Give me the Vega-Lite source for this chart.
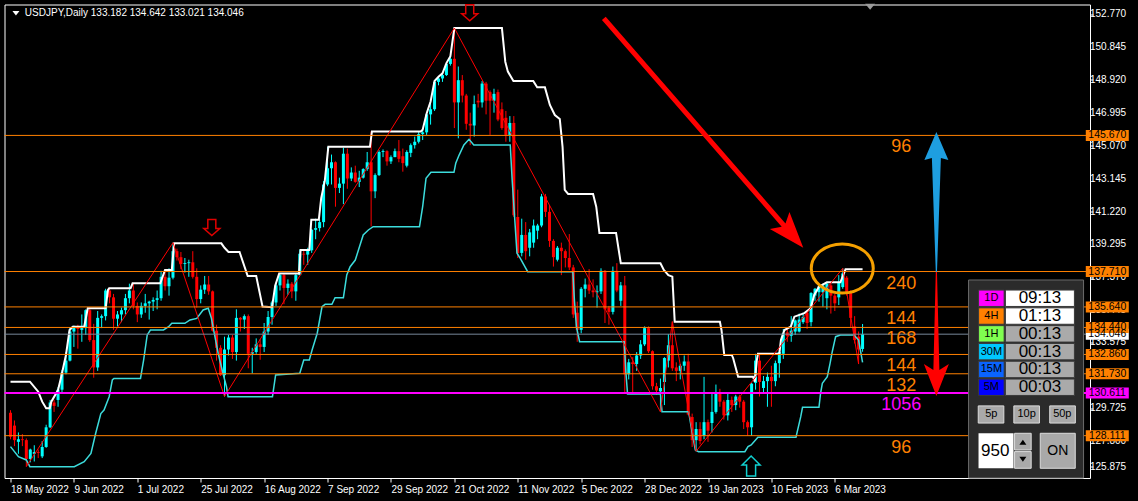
{
"$schema":"https://vega.github.io/schema/vega-lite/v6.json",
"width":1085.5,"height":473.5,
"autosize":{"type":"none"},
"padding":{"left":4.5,"top":4.5,"right":48,"bottom":23},
"background":"#000000",
"config":{"view":{"stroke":"#ffffff","strokeWidth":1,"fill":"#000000"},"text":{"font":"Liberation Sans"},"axis":{"labelFont":"Liberation Sans"}},
"datasets":{
"one":[{}],
"yticks":[
{"v":152.77,"label":"152.770"},{"v":150.845,"label":"150.845"},{"v":148.92,"label":"148.920"},{"v":146.995,"label":"146.995"},{"v":145.07,"label":"145.070"},{"v":143.145,"label":"143.145"},{"v":141.22,"label":"141.220"},{"v":139.295,"label":"139.295"},{"v":137.37,"label":"137.370"},{"v":135.445,"label":"135.445"},{"v":133.575,"label":"133.575"},{"v":131.65,"label":"131.650"},{"v":129.725,"label":"129.725"},{"v":127.8,"label":"127.800"},{"v":126.3,"label":"125.875"}
],
"candles":[
{"i":0,"o":129.45,"h":129.6,"l":127.9,"c":128.05},{"i":1,"o":128.7,"h":129.0,"l":127.5,"c":127.85},{"i":2,"o":127.75,"h":128.3,"l":127.05,"c":127.9},{"i":3,"o":127.9,"h":128.2,"l":127.5,"c":127.85},{"i":4,"o":127.85,"h":127.95,"l":126.3,"c":126.75},{"i":5,"o":126.75,"h":127.35,"l":126.55,"c":127.3},{"i":6,"o":127.05,"h":127.55,"l":126.6,"c":127.15},{"i":7,"o":127.15,"h":127.3,"l":126.8,"c":127.1},{"i":8,"o":126.9,"h":127.8,"l":126.8,"c":127.45},{"i":9,"o":127.45,"h":128.75,"l":127.4,"c":128.6},
{"i":10,"o":128.6,"h":130.2,"l":128.55,"c":130.05},{"i":11,"o":130.05,"h":130.2,"l":129.5,"c":129.85},{"i":12,"o":130.2,"h":130.95,"l":129.8,"c":130.8},{"i":13,"o":130.8,"h":131.95,"l":130.6,"c":131.8},{"i":14,"o":131.8,"h":133.0,"l":131.7,"c":132.5},{"i":15,"o":132.5,"h":134.45,"l":132.45,"c":134.2},{"i":16,"o":134.2,"h":134.55,"l":133.3,"c":134.45},{"i":17,"o":134.45,"h":134.6,"l":133.2,"c":134.35},{"i":18,"o":134.3,"h":135.2,"l":133.6,"c":134.4},{"i":19,"o":134.4,"h":135.5,"l":134.0,"c":135.45},
{"i":20,"o":135.45,"h":135.6,"l":133.6,"c":133.7},{"i":21,"o":133.7,"h":134.65,"l":131.5,"c":132.1},{"i":22,"o":132.1,"h":135.4,"l":131.9,"c":135.0},{"i":23,"o":135.0,"h":135.2,"l":134.4,"c":135.1},{"i":24,"o":135.1,"h":136.7,"l":134.85,"c":136.6},{"i":25,"o":136.6,"h":136.75,"l":135.85,"c":136.2},{"i":26,"o":136.2,"h":136.4,"l":134.3,"c":134.95},{"i":27,"o":134.95,"h":135.4,"l":134.5,"c":135.2},{"i":28,"o":135.2,"h":135.6,"l":134.75,"c":135.45},{"i":29,"o":135.45,"h":136.4,"l":135.2,"c":136.15},
{"i":30,"o":136.15,"h":137.0,"l":135.85,"c":136.6},{"i":31,"o":136.6,"h":137.0,"l":135.5,"c":135.7},{"i":32,"o":135.7,"h":135.9,"l":134.75,"c":135.2},{"i":33,"o":135.2,"h":135.9,"l":135.0,"c":135.7},{"i":34,"o":135.7,"h":136.4,"l":135.3,"c":135.85},{"i":35,"o":135.85,"h":136.0,"l":134.9,"c":135.95},{"i":36,"o":135.95,"h":136.2,"l":135.4,"c":136.05},{"i":37,"o":136.05,"h":136.6,"l":135.5,"c":136.15},{"i":38,"o":136.15,"h":137.75,"l":136.0,"c":137.4},{"i":39,"o":137.4,"h":137.75,"l":136.6,"c":136.85},
{"i":40,"o":136.85,"h":137.9,"l":136.3,"c":137.35},{"i":41,"o":137.35,"h":139.4,"l":137.25,"c":138.9},{"i":42,"o":138.9,"h":139.05,"l":138.35,"c":138.55},{"i":43,"o":138.55,"h":138.85,"l":137.85,"c":138.15},{"i":44,"o":138.15,"h":138.5,"l":137.65,"c":138.2},{"i":45,"o":138.2,"h":138.4,"l":137.4,"c":138.25},{"i":46,"o":138.25,"h":138.9,"l":137.3,"c":137.4},{"i":47,"o":137.4,"h":137.9,"l":135.6,"c":136.1},{"i":48,"o":136.1,"h":136.9,"l":135.85,"c":136.65},{"i":49,"o":136.65,"h":137.45,"l":136.4,"c":136.95},
{"i":50,"o":136.95,"h":137.45,"l":136.35,"c":136.55},{"i":51,"o":136.55,"h":136.6,"l":134.2,"c":134.25},{"i":52,"o":134.25,"h":134.6,"l":132.5,"c":133.25},{"i":53,"o":133.25,"h":133.4,"l":131.6,"c":131.65},{"i":54,"o":131.65,"h":133.9,"l":130.4,"c":133.15},{"i":55,"o":133.15,"h":134.0,"l":132.8,"c":133.85},{"i":56,"o":133.85,"h":134.0,"l":132.6,"c":133.0},{"i":57,"o":133.0,"h":135.5,"l":132.5,"c":135.0},{"i":58,"o":135.0,"h":135.05,"l":134.2,"c":134.9},{"i":59,"o":134.9,"h":135.2,"l":134.35,"c":135.1},
{"i":60,"o":135.1,"h":135.2,"l":132.05,"c":132.9},{"i":61,"o":132.9,"h":133.25,"l":131.75,"c":133.0},{"i":62,"o":133.0,"h":133.8,"l":132.9,"c":133.45},{"i":63,"o":133.45,"h":133.75,"l":132.55,"c":133.3},{"i":64,"o":133.3,"h":134.7,"l":133.0,"c":134.2},{"i":65,"o":134.2,"h":135.4,"l":134.0,"c":135.05},{"i":66,"o":135.05,"h":136.0,"l":134.6,"c":135.9},{"i":67,"o":135.9,"h":137.05,"l":135.7,"c":136.9},{"i":68,"o":136.9,"h":137.6,"l":136.6,"c":137.5},{"i":69,"o":137.5,"h":137.6,"l":135.8,"c":136.75},
{"i":70,"o":136.75,"h":137.25,"l":136.35,"c":137.0},{"i":71,"o":137.0,"h":137.1,"l":136.15,"c":136.55},{"i":72,"o":136.55,"h":137.6,"l":136.0,"c":137.5},{"i":73,"o":137.5,"h":139.0,"l":137.5,"c":138.75},{"i":74,"o":138.75,"h":138.95,"l":138.1,"c":138.7},{"i":75,"o":138.7,"h":139.1,"l":138.1,"c":138.95},{"i":76,"o":138.95,"h":140.2,"l":138.8,"c":140.15},{"i":77,"o":140.15,"h":140.8,"l":139.6,"c":140.25},{"i":78,"o":140.25,"h":140.75,"l":140.05,"c":140.6},{"i":79,"o":140.6,"h":143.0,"l":140.3,"c":142.8},
{"i":80,"o":142.8,"h":145.0,"l":142.7,"c":143.75},{"i":81,"o":143.75,"h":144.55,"l":142.8,"c":144.1},{"i":82,"o":144.1,"h":144.15,"l":141.5,"c":142.6},{"i":83,"o":142.6,"h":143.2,"l":142.3,"c":142.85},{"i":84,"o":142.85,"h":144.95,"l":141.65,"c":144.6},{"i":85,"o":144.6,"h":144.9,"l":142.55,"c":143.15},{"i":86,"o":143.15,"h":143.8,"l":143.0,"c":143.5},{"i":87,"o":143.5,"h":143.9,"l":142.9,"c":142.95},{"i":88,"o":142.95,"h":143.6,"l":142.65,"c":143.2},{"i":89,"o":143.2,"h":143.75,"l":143.15,"c":143.7},
{"i":90,"o":143.7,"h":144.7,"l":143.6,"c":144.1},{"i":91,"o":144.1,"h":145.9,"l":140.35,"c":142.4},{"i":92,"o":142.4,"h":143.45,"l":142.0,"c":143.35},{"i":93,"o":143.35,"h":144.8,"l":143.3,"c":144.7},{"i":94,"o":144.7,"h":144.85,"l":144.4,"c":144.75},{"i":95,"o":144.75,"h":144.8,"l":143.9,"c":144.15},{"i":96,"o":144.15,"h":144.5,"l":144.0,"c":144.4},{"i":97,"o":144.4,"h":144.9,"l":144.4,"c":144.75},{"i":98,"o":144.75,"h":145.4,"l":144.1,"c":144.3},{"i":99,"o":144.45,"h":144.9,"l":143.55,"c":144.05},
{"i":100,"o":143.9,"h":144.8,"l":143.8,"c":144.7},{"i":101,"o":144.65,"h":145.2,"l":144.4,"c":145.1},{"i":102,"o":145.1,"h":145.6,"l":144.9,"c":145.3},{"i":103,"o":145.3,"h":145.9,"l":145.2,"c":145.75},{"i":104,"o":145.75,"h":146.0,"l":145.4,"c":145.85},{"i":105,"o":145.85,"h":146.95,"l":145.7,"c":146.9},{"i":106,"o":146.9,"h":147.65,"l":146.3,"c":147.2},{"i":107,"o":147.2,"h":148.85,"l":147.1,"c":148.8},{"i":108,"o":148.8,"h":149.1,"l":148.6,"c":149.0},{"i":109,"o":149.0,"h":149.3,"l":148.8,"c":149.2},
{"i":110,"o":149.2,"h":149.9,"l":149.15,"c":149.85},{"i":111,"o":149.85,"h":150.3,"l":149.75,"c":150.15},{"i":112,"o":150.15,"h":151.95,"l":146.1,"c":147.6},{"i":113,"o":147.6,"h":149.7,"l":145.5,"c":148.9},{"i":114,"o":148.9,"h":149.2,"l":147.6,"c":148.0},{"i":115,"o":148.0,"h":148.1,"l":146.0,"c":146.35},{"i":116,"o":146.35,"h":147.0,"l":145.1,"c":146.25},{"i":117,"o":146.25,"h":148.0,"l":145.6,"c":147.5},{"i":118,"o":147.7,"h":148.1,"l":147.3,"c":147.6},{"i":119,"o":147.6,"h":148.85,"l":147.3,"c":148.7},
{"i":120,"o":148.7,"h":148.8,"l":146.9,"c":147.7},{"i":121,"o":148.2,"h":148.3,"l":145.7,"c":147.7},{"i":122,"o":147.7,"h":148.4,"l":147.0,"c":148.1},{"i":123,"o":148.2,"h":148.35,"l":146.5,"c":146.6},{"i":124,"o":147.2,"h":147.6,"l":146.0,"c":146.1},{"i":125,"o":146.7,"h":147.1,"l":145.3,"c":145.7},{"i":126,"o":145.7,"h":146.8,"l":145.3,"c":146.4},{"i":127,"o":146.4,"h":146.8,"l":140.9,"c":141.0},{"i":128,"o":140.9,"h":142.5,"l":138.5,"c":138.8},{"i":129,"o":138.8,"h":140.8,"l":138.6,"c":139.85},
{"i":130,"o":139.85,"h":140.6,"l":138.4,"c":138.9},{"i":131,"o":139.1,"h":140.2,"l":138.6,"c":140.0},{"i":132,"o":139.4,"h":140.75,"l":139.1,"c":140.4},{"i":133,"o":140.1,"h":140.5,"l":139.6,"c":140.4},{"i":134,"o":140.4,"h":142.25,"l":140.3,"c":142.1},{"i":135,"o":142.1,"h":142.25,"l":140.9,"c":141.2},{"i":136,"o":141.2,"h":141.6,"l":139.15,"c":139.5},{"i":137,"o":139.5,"h":139.6,"l":138.0,"c":138.55},{"i":138,"o":138.4,"h":139.2,"l":138.3,"c":139.1},{"i":139,"o":139.1,"h":139.4,"l":137.5,"c":138.9},
{"i":140,"o":138.9,"h":139.0,"l":137.95,"c":138.5},{"i":141,"o":138.5,"h":139.9,"l":137.8,"c":137.95},{"i":142,"o":137.95,"h":138.1,"l":135.0,"c":135.2},{"i":143,"o":135.3,"h":135.95,"l":133.6,"c":134.3},{"i":144,"o":134.3,"h":136.8,"l":134.1,"c":136.7},{"i":145,"o":136.7,"h":137.3,"l":136.2,"c":136.95},{"i":146,"o":136.95,"h":137.85,"l":136.4,"c":136.6},{"i":147,"o":136.6,"h":137.25,"l":136.2,"c":136.5},{"i":148,"o":136.5,"h":136.9,"l":135.6,"c":136.55},{"i":149,"o":136.55,"h":137.9,"l":136.4,"c":137.75},
{"i":150,"o":137.75,"h":137.8,"l":134.7,"c":135.5},{"i":151,"o":135.6,"h":135.7,"l":134.6,"c":135.35},{"i":152,"o":135.35,"h":138.0,"l":135.2,"c":137.75},{"i":153,"o":137.75,"h":138.2,"l":136.5,"c":136.6},{"i":154,"o":136.0,"h":137.1,"l":135.7,"c":136.9},{"i":155,"o":136.9,"h":137.45,"l":130.6,"c":131.7},{"i":156,"o":131.7,"h":132.6,"l":131.4,"c":132.4},{"i":157,"o":132.4,"h":132.7,"l":130.6,"c":132.3},{"i":158,"o":132.3,"h":133.0,"l":131.9,"c":132.8},{"i":159,"o":132.8,"h":133.7,"l":132.6,"c":133.45},
{"i":160,"o":133.45,"h":134.5,"l":133.35,"c":134.4},{"i":161,"o":134.4,"h":134.5,"l":132.95,"c":133.05},{"i":162,"o":133.05,"h":133.1,"l":130.8,"c":131.0},{"i":163,"o":131.0,"h":131.2,"l":130.5,"c":130.75},{"i":164,"o":130.7,"h":131.45,"l":129.5,"c":130.9},{"i":165,"o":131.25,"h":132.7,"l":129.9,"c":132.65},{"i":166,"o":132.5,"h":134.05,"l":132.1,"c":133.4},{"i":167,"o":133.4,"h":134.78,"l":131.9,"c":132.05},{"i":168,"o":132.1,"h":132.4,"l":131.3,"c":131.9},{"i":169,"o":131.9,"h":132.3,"l":131.4,"c":132.2},
{"i":170,"o":132.2,"h":132.8,"l":131.9,"c":132.45},{"i":171,"o":132.45,"h":132.9,"l":129.3,"c":129.35},{"i":172,"o":129.2,"h":129.4,"l":127.45,"c":127.85},{"i":173,"o":127.85,"h":128.9,"l":127.2,"c":128.5},{"i":174,"o":128.5,"h":128.9,"l":127.6,"c":127.8},{"i":175,"o":128.1,"h":131.55,"l":127.9,"c":128.9},{"i":176,"o":128.9,"h":129.05,"l":127.75,"c":128.4},{"i":177,"o":128.85,"h":130.6,"l":128.3,"c":129.5},{"i":178,"o":129.5,"h":131.1,"l":129.4,"c":130.6},{"i":179,"o":130.6,"h":130.85,"l":129.8,"c":130.1},
{"i":180,"o":130.1,"h":130.2,"l":129.05,"c":129.3},{"i":181,"o":129.3,"h":130.6,"l":129.0,"c":130.2},{"i":182,"o":130.2,"h":130.4,"l":129.5,"c":129.9},{"i":183,"o":129.9,"h":130.5,"l":129.6,"c":130.4},{"i":184,"o":130.4,"h":130.5,"l":129.75,"c":130.1},{"i":185,"o":130.1,"h":130.2,"l":128.5,"c":128.9},{"i":186,"o":128.9,"h":129.0,"l":128.1,"c":128.6},{"i":187,"o":128.6,"h":131.2,"l":128.1,"c":131.15},{"i":188,"o":131.2,"h":132.9,"l":130.8,"c":132.5},{"i":189,"o":132.5,"h":132.9,"l":130.4,"c":131.25},
{"i":190,"o":130.9,"h":131.6,"l":130.55,"c":131.3},{"i":191,"o":131.3,"h":131.8,"l":129.8,"c":131.55},{"i":192,"o":131.55,"h":132.2,"l":129.8,"c":131.3},{"i":193,"o":131.3,"h":132.5,"l":131.0,"c":132.35},{"i":194,"o":132.35,"h":133.3,"l":131.5,"c":133.0},{"i":195,"o":132.9,"h":134.35,"l":132.6,"c":134.1},{"i":196,"o":134.15,"h":134.35,"l":133.6,"c":133.95},{"i":197,"o":133.95,"h":135.1,"l":133.6,"c":134.25},{"i":198,"o":134.2,"h":134.9,"l":134.0,"c":134.85},{"i":199,"o":134.2,"h":135.25,"l":134.15,"c":134.9},
{"i":200,"o":134.75,"h":135.3,"l":134.65,"c":135.05},{"i":201,"o":135.3,"h":135.35,"l":134.35,"c":134.7},{"i":202,"o":134.75,"h":136.5,"l":134.5,"c":136.45},{"i":203,"o":136.3,"h":136.75,"l":136.0,"c":136.7},{"i":204,"o":136.5,"h":136.9,"l":135.95,"c":136.85},{"i":205,"o":136.5,"h":137.0,"l":135.65,"c":136.9},{"i":206,"o":136.15,"h":137.1,"l":135.5,"c":137.0},{"i":207,"o":136.9,"h":137.0,"l":135.25,"c":136.3},{"i":208,"o":136.3,"h":136.4,"l":135.4,"c":135.85},{"i":209,"o":136.2,"h":137.5,"l":135.75,"c":137.1},
{"i":210,"o":136.8,"h":137.9,"l":136.7,"c":137.6},{"i":211,"o":137.35,"h":137.45,"l":136.3,"c":136.5},{"i":212,"o":136.5,"h":136.6,"l":134.47,"c":135.0},{"i":213,"o":134.5,"h":135.1,"l":133.5,"c":133.7},{"i":214,"o":133.9,"h":134.2,"l":132.3,"c":133.15},{"i":215,"o":133.182,"h":134.642,"l":133.021,"c":134.046}
],
"upper":[
{"i":0,"v":131.27},{"i":4.9,"v":131.27},{"i":7,"v":130.68},{"i":8,"v":130.1},{"i":9,"v":129.71},{"i":9.9,"v":129.71},{"i":10.3,"v":130.1},{"i":12,"v":130.78},{"i":12.8,"v":131.56},{"i":14,"v":132.83},{"i":14.9,"v":134.29},{"i":15.7,"v":134.48},{"i":18.6,"v":134.48},{"i":19.5,"v":135.56},{"i":24,"v":135.56},{"i":24.6,"v":136.63},{"i":24.9,"v":136.73},{"i":30.3,"v":136.73},{"i":30.8,"v":137.02},{"i":37.8,"v":137.02},{"i":39,"v":137.8},{"i":40.7,"v":137.8},{"i":41.3,"v":139.36},{"i":53.2,"v":139.36},{"i":54,"v":139.1},{"i":55,"v":138.85},{"i":57.8,"v":138.85},{"i":59.85,"v":137.45},{"i":62,"v":137.45},{"i":63.6,"v":135.66},{"i":66,"v":135.62},{"i":66.8,"v":136.9},{"i":67.8,"v":137.6},{"i":72.8,"v":137.6},{"i":73.2,"v":138.97},{"i":75.4,"v":138.97},{"i":75.9,"v":140.74},{"i":77.8,"v":140.74},{"i":78.4,"v":142.0},{"i":79.3,"v":143.0},{"i":80.2,"v":145.0},{"i":90.7,"v":145.0},{"i":91.2,"v":145.9},{"i":103.5,"v":145.9},{"i":104,"v":146.0},{"i":105,"v":146.95},{"i":106,"v":147.65},{"i":107,"v":148.85},{"i":108,"v":149.1},{"i":109,"v":149.3},{"i":110,"v":149.9},{"i":111,"v":150.3},{"i":112,"v":151.95},{"i":124,"v":151.95},{"i":124.85,"v":149.98},{"i":125.5,"v":149.4},{"i":126.9,"v":148.85},{"i":131.9,"v":148.85},{"i":132.9,"v":148.48},{"i":134.85,"v":148.48},{"i":136.1,"v":147.45},{"i":137.35,"v":146.86},{"i":138.6,"v":146.63},{"i":139.3,"v":145.0},{"i":139.85,"v":142.48},{"i":140.7,"v":142.25},{"i":147,"v":142.25},{"i":147.8,"v":141.5},{"i":148.6,"v":139.97},{"i":152.8,"v":139.97},{"i":153.6,"v":138.78},{"i":154,"v":138.19},{"i":164,"v":138.19},{"i":164.85,"v":137.8},{"i":166,"v":137.5},{"i":167,"v":137.41},{"i":167.6,"v":134.78},{"i":179,"v":134.78},{"i":179.4,"v":134.29},{"i":180.1,"v":132.83},{"i":182,"v":132.83},{"i":182.35,"v":132.64},{"i":183.6,"v":131.56},{"i":187.35,"v":131.56},{"i":187.8,"v":131.27},{"i":188.3,"v":132.5},{"i":188.6,"v":132.9},{"i":194,"v":132.9},{"i":194.4,"v":133.7},{"i":195.3,"v":134.29},{"i":196.9,"v":134.49},{"i":197.8,"v":135.07},{"i":200.3,"v":135.28},{"i":201.9,"v":135.56},{"i":202.8,"v":136.34},{"i":204,"v":136.82},{"i":206,"v":137.08},{"i":209.4,"v":137.08},{"i":210.7,"v":137.84},{"i":215,"v":137.84}
],
"lower":[
{"i":0,"v":127.47},{"i":2,"v":126.88},{"i":4,"v":126.69},{"i":4.9,"v":126.3},{"i":16.1,"v":126.3},{"i":18.6,"v":126.59},{"i":20.3,"v":127.07},{"i":21.5,"v":128.25},{"i":22.8,"v":129.4},{"i":23.6,"v":129.61},{"i":24.9,"v":130.39},{"i":25.7,"v":131.37},{"i":26.1,"v":131.46},{"i":32.8,"v":131.46},{"i":33.6,"v":132.54},{"i":34.5,"v":134.0},{"i":35.3,"v":134.29},{"i":38.6,"v":134.29},{"i":39.9,"v":134.48},{"i":40.7,"v":134.68},{"i":44,"v":134.68},{"i":45.3,"v":134.88},{"i":47,"v":134.97},{"i":48.6,"v":135.46},{"i":49.9,"v":135.56},{"i":50.7,"v":134.97},{"i":51.5,"v":134.0},{"i":52.4,"v":132.93},{"i":53.6,"v":131.76},{"i":54.5,"v":130.97},{"i":54.9,"v":130.39},{"i":66.1,"v":130.39},{"i":66.9,"v":131.66},{"i":73,"v":131.76},{"i":74,"v":132.54},{"i":75.4,"v":132.54},{"i":76.1,"v":133.12},{"i":77.4,"v":134.1},{"i":78.6,"v":135.65},{"i":79.4,"v":135.79},{"i":81.1,"v":135.79},{"i":81.9,"v":136.18},{"i":84,"v":136.18},{"i":84.85,"v":137.51},{"i":85.7,"v":137.99},{"i":87,"v":138.38},{"i":87.8,"v":138.97},{"i":89,"v":139.85},{"i":90.3,"v":140.14},{"i":91.5,"v":140.33},{"i":103.2,"v":140.33},{"i":104,"v":141.5},{"i":104.85,"v":143.16},{"i":106.1,"v":143.51},{"i":111.9,"v":143.51},{"i":112.35,"v":144.04},{"i":113.2,"v":144.52},{"i":114.4,"v":145.11},{"i":115.7,"v":145.44},{"i":116.9,"v":145.11},{"i":126.1,"v":145.11},{"i":126.6,"v":143.0},{"i":127.2,"v":140.9},{"i":127.8,"v":138.78},{"i":128.6,"v":138.5},{"i":130.5,"v":137.7},{"i":141.9,"v":137.7},{"i":142.3,"v":136.0},{"i":142.8,"v":134.48},{"i":143.6,"v":133.61},{"i":154.85,"v":133.61},{"i":155.3,"v":131.76},{"i":155.7,"v":130.55},{"i":164,"v":130.55},{"i":164.4,"v":129.51},{"i":171.1,"v":129.51},{"i":171.9,"v":128.44},{"i":172.8,"v":127.27},{"i":173.6,"v":127.17},{"i":185.3,"v":127.17},{"i":186.1,"v":127.47},{"i":186.9,"v":127.57},{"i":188.6,"v":128.02},{"i":198.2,"v":128.02},{"i":199.4,"v":129.22},{"i":199.85,"v":129.77},{"i":204,"v":129.77},{"i":204.4,"v":130.59},{"i":204.85,"v":131.17},{"i":206.1,"v":131.56},{"i":206.8,"v":132.34},{"i":207.35,"v":133.02},{"i":208.2,"v":133.9},{"i":209.4,"v":134.0},{"i":212.8,"v":134.0},{"i":214,"v":133.7},{"i":215,"v":132.4}
],
"zigzag":[
{"i":4,"v":126.3},{"i":41,"v":139.4},{"i":54,"v":130.4},{"i":112,"v":151.95},{"i":164,"v":129.5},{"i":167,"v":134.78},{"i":173,"v":127.2},{"i":210,"v":137.9},{"i":214,"v":132.3}
],
"levels":[
{"price":134.046,"kind":"bid","count":""},
{"price":145.670,"kind":"level","count":"96"},
{"price":137.710,"kind":"level","count":"240"},
{"price":135.640,"kind":"level","count":"144"},
{"price":134.440,"kind":"level","count":"168"},
{"price":132.860,"kind":"level","count":"144"},
{"price":131.730,"kind":"level","count":"132"},
{"price":130.611,"kind":"pivot","count":"1056"},
{"price":128.111,"kind":"level","count":"96"}
],
"timers":[
{"row":1,"tf":"1D","left":"09:13","live":true},
{"row":2,"tf":"4H","left":"01:13","live":true},
{"row":3,"tf":"1H","left":"00:13","live":false},
{"row":4,"tf":"30M","left":"00:13","live":false},
{"row":5,"tf":"15M","left":"00:13","live":false},
{"row":6,"tf":"5M","left":"00:03","live":false}
]
},
"layer":[
{"layer":[
{"data":{"name":"candles"},"mark":{"type":"rule","strokeWidth":1},
 "encoding":{
  "x":{"field":"i","type":"quantitative","scale":{"domain":[-0.25,271.125],"nice":false,"zero":false},
   "axis":{"orient":"bottom","values":[0,16,32,48,64,80,96,112,128,144,160,176,192,208],
    "labelExpr":"['18 May 2022','9 Jun 2022','1 Jul 2022','25 Jul 2022','16 Aug 2022','7 Sep 2022','29 Sep 2022','21 Oct 2022','11 Nov 2022','5 Dec 2022','28 Dec 2022','19 Jan 2023','10 Feb 2023','6 Mar 2023'][round(datum.value/16)]",
    "domain":false,"grid":false,"ticks":true,"tickSize":4,"tickColor":"#ffffff","tickWidth":1,"labelColor":"#ffffff","labelFontSize":10,"labelAlign":"left","labelBaseline":"top","labelPadding":2,"labelDx":1,"labelOverlap":false,"labelFlush":false,"labelBound":false,"title":null}},
  "y":{"field":"l","type":"quantitative","scale":{"domain":[125.635,153.326],"nice":false,"zero":false},
   "axis":{"orient":"right","values":[152.77,150.845,148.92,146.995,145.07,143.145,141.22,139.295,137.37,135.445,133.575,131.65,129.725,127.8,126.3],
    "labels":false,"domain":false,"grid":false,"ticks":true,"tickSize":3,"tickColor":"#ffffff","title":null}},
  "y2":{"field":"h"},
  "color":{"condition":{"test":"datum.c >= datum.o","value":"#00ffff"},"value":"#ff0000"}}},
{"data":{"name":"candles"},"mark":{"type":"bar","width":3},
 "encoding":{"x":{"field":"i","type":"quantitative"},"y":{"field":"o","type":"quantitative"},"y2":{"field":"c"},
  "color":{"condition":{"test":"datum.c >= datum.o","value":"#00ffff"},"value":"#ff0000"}}},
{"data":{"name":"upper"},"mark":{"type":"line","color":"#ffffff","strokeWidth":2},
 "encoding":{"x":{"field":"i","type":"quantitative"},"y":{"field":"v","type":"quantitative"}}},
{"data":{"name":"lower"},"mark":{"type":"line","color":"#3cdcdc","strokeWidth":1.5},
 "encoding":{"x":{"field":"i","type":"quantitative"},"y":{"field":"v","type":"quantitative"}}},
{"data":{"name":"zigzag"},"mark":{"type":"line","color":"#ff0000","strokeWidth":1},
 "encoding":{"x":{"field":"i","type":"quantitative"},"y":{"field":"v","type":"quantitative"}}},
{"data":{"name":"yticks"},"mark":{"type":"text","align":"left","baseline":"middle","fontSize":10,"color":"#ffffff"},
 "encoding":{"x":{"datum":272.375},"y":{"field":"v","type":"quantitative"},"text":{"field":"label"}}},
{"data":{"name":"levels"},"mark":{"type":"rule"},
 "encoding":{"y":{"field":"price","type":"quantitative"},
  "color":{"condition":[{"test":"datum.kind==='pivot'","value":"#ff00ff"},{"test":"datum.kind==='bid'","value":"#778899"}],"value":"#ff8000"},
  "strokeWidth":{"condition":{"test":"datum.kind==='pivot'","value":2},"value":1}}},
{"data":{"name":"levels"},"transform":[{"filter":"datum.kind !== 'bid'"}],
 "mark":{"type":"text","align":"center","baseline":"top","dy":3,"fontSize":18},
 "encoding":{"x":{"datum":224.75},"y":{"field":"price","type":"quantitative"},"text":{"field":"count"},
  "color":{"condition":{"test":"datum.kind==='pivot'","value":"#ff00ff"},"value":"#ff8000"}}},
{"data":{"name":"levels"},"mark":{"type":"point","shape":"M -21.5 -5.5 H 21.5 V 5.5 H -21.5 Z","size":4,"filled":true,"opacity":1,"strokeWidth":0},
 "encoding":{"x":{"datum":276.75},"y":{"field":"price","type":"quantitative"},
  "fill":{"condition":[{"test":"datum.kind==='pivot'","value":"#ff00ff"},{"test":"datum.kind==='bid'","value":"#ffffff"}],"value":"#ff8000"}}},
{"data":{"name":"levels"},"mark":{"type":"text","align":"center","baseline":"middle","fontSize":10.5,"color":"#000000"},
 "encoding":{"x":{"datum":276.75},"y":{"field":"price","type":"quantitative"},"text":{"field":"price","type":"quantitative","format":".3f"}}},
{"data":{"name":"one"},"mark":{"type":"point","shape":"M -3.5 -2 L 3.5 -2 L 0 2.5 Z","size":4,"filled":true,"opacity":1,"fill":"#ffffff","strokeWidth":0},
 "encoding":{"x":{"datum":1.375},"y":{"datum":152.83}}},
{"data":{"values":[{"t":"USDJPY,Daily  133.182 134.642 133.021 134.046"}]},"mark":{"type":"text","align":"left","baseline":"middle","fontSize":10,"color":"#ffffff"},
 "encoding":{"x":{"datum":3.625},"y":{"datum":152.83},"text":{"field":"t"}}},
{"data":{"name":"one"},"mark":{"type":"point","shape":"M -5 -3 L 5 -3 L 0 3 Z","size":4,"filled":true,"opacity":1,"fill":"#9b9b9b","strokeWidth":0},
 "encoding":{"x":{"datum":216.9},"y":{"datum":153.2}}},
{"data":{"name":"one"},"mark":{"type":"point","shape":"M -4 -8 L 4 -8 L 4 1 L 8 1 L 0 8 L -8 1 L -4 1 Z","size":4,"filled":false,"opacity":1,"stroke":"#e00000","strokeWidth":1.5},
 "encoding":{"x":{"datum":50.8},"y":{"datum":140.285}}},
{"data":{"name":"one"},"mark":{"type":"point","shape":"M -4 -8 L 4 -8 L 4 1 L 8 1 L 0 8 L -8 1 L -4 1 Z","size":4,"filled":false,"opacity":1,"stroke":"#e00000","strokeWidth":1.5},
 "encoding":{"x":{"datum":115.875},"y":{"datum":152.846}}},
{"data":{"name":"one"},"mark":{"type":"point","shape":"M -4.5 10 L 4.5 10 L 4.5 -1 L 9 -1 L 0 -10 L -9 -1 L -4.5 -1 Z","size":4,"filled":false,"opacity":1,"stroke":"#10d0d0","strokeWidth":1.5},
 "encoding":{"x":{"datum":186.875},"y":{"datum":126.337}}},
{"data":{"name":"one"},"mark":{"type":"point","shape":"M -2.5 -152 L 2.5 -152 L 2.5 122 L 13 116 L 0 152 L -13 116 L -2.5 122 Z","size":4,"filled":true,"opacity":1,"fill":"#ff0000","strokeWidth":0,"angle":319},
 "encoding":{"x":{"datum":174.875},"y":{"datum":145.81}}},
{"data":{"name":"one"},"mark":{"type":"point","shape":"M 0 -70 L 12 -42 L 4.5 -44 L 0.6 70 L -0.6 70 L -4.5 -44 L -12 -42 Z","size":4,"filled":true,"opacity":1,"fill":"#1e9ee0","strokeWidth":0},
 "encoding":{"x":{"datum":233.625},"y":{"datum":141.776}}},
{"data":{"name":"one"},"mark":{"type":"point","shape":"M -0.6 -62 L 0.6 -62 L 3 36 L 12.5 30 L 0 62 L -12.5 30 L -3 36 Z","size":4,"filled":true,"opacity":1,"fill":"#ff0000","strokeWidth":0},
 "encoding":{"x":{"datum":233.625},"y":{"datum":134.056}}},
{"data":{"name":"one"},"mark":{"type":"point","shape":"M -31 0 A 31 24.5 0 1 0 31 0 A 31 24.5 0 1 0 -31 0 Z","size":4,"filled":false,"opacity":1,"stroke":"#f5a000","strokeWidth":3},
 "encoding":{"x":{"datum":209.875},"y":{"datum":137.887}}},
{"data":{"name":"one"},"mark":{"type":"point","shape":"M -57.5 -99 H 57.5 V 99 H -57.5 Z","size":4,"filled":true,"opacity":1,"fill":"#2b2b2b","stroke":"#6a6a6a","strokeWidth":1},
 "encoding":{"x":{"datum":256.25},"y":{"datum":131.425}}},
{"data":{"name":"one"},"mark":{"type":"point","shape":"M -48.4 -8.6 H -22.8 V 8.6 H -48.4 Z M -12.8 -8.6 H 12.8 V 8.6 H -12.8 Z M 23.1 -8.6 H 48.7 V 8.6 H 23.1 Z","size":4,"filled":true,"opacity":1,"fill":"#a9a9a9","stroke":"#dcdcdc","strokeWidth":1},
 "encoding":{"x":{"datum":256.4},"y":{"datum":129.35}}},
{"data":{"values":[{"t":"5p"}]},"mark":{"type":"text","align":"center","baseline":"middle","fontSize":11,"color":"#000000"},
 "encoding":{"x":{"datum":247.5},"y":{"datum":129.35},"text":{"field":"t"}}},
{"data":{"values":[{"t":"10p"}]},"mark":{"type":"text","align":"center","baseline":"middle","fontSize":11,"color":"#000000"},
 "encoding":{"x":{"datum":256.4},"y":{"datum":129.35},"text":{"field":"t"}}},
{"data":{"values":[{"t":"50p"}]},"mark":{"type":"text","align":"center","baseline":"middle","fontSize":11,"color":"#000000"},
 "encoding":{"x":{"datum":265.4},"y":{"datum":129.35},"text":{"field":"t"}}},
{"data":{"name":"one"},"mark":{"type":"point","shape":"M -17.5 -17.5 H 17.5 V 17.5 H -17.5 Z","size":4,"filled":true,"opacity":1,"fill":"#ffffff","strokeWidth":0},
 "encoding":{"x":{"datum":248.675},"y":{"datum":127.226}}},
{"data":{"values":[{"t":"950"}]},"mark":{"type":"text","align":"left","baseline":"middle","fontSize":17,"color":"#000000"},
 "encoding":{"x":{"datum":244.875},"y":{"datum":127.226},"text":{"field":"t"}}},
{"data":{"name":"one"},"mark":{"type":"point","shape":"M -8.3 -17.5 H 8.3 V -0.8 H -8.3 Z M -8.3 0.8 H 8.3 V 17.5 H -8.3 Z","size":4,"filled":true,"opacity":1,"fill":"#a9a9a9","stroke":"#dcdcdc","strokeWidth":1},
 "encoding":{"x":{"datum":255.45},"y":{"datum":127.226}}},
{"data":{"name":"one"},"mark":{"type":"point","shape":"M 0 -11 L 3.5 -6 L -3.5 -6 Z M 0 11 L 3.5 6 L -3.5 6 Z","size":4,"filled":true,"opacity":1,"fill":"#000000","strokeWidth":0},
 "encoding":{"x":{"datum":255.45},"y":{"datum":127.226}}},
{"data":{"name":"one"},"mark":{"type":"point","shape":"M -17.5 -17.5 H 17.5 V 17.5 H -17.5 Z","size":4,"filled":true,"opacity":1,"fill":"#a9a9a9","stroke":"#dcdcdc","strokeWidth":1},
 "encoding":{"x":{"datum":264.25},"y":{"datum":127.226}}},
{"data":{"values":[{"t":"ON"}]},"mark":{"type":"text","align":"center","baseline":"middle","fontSize":14,"color":"#000000"},
 "encoding":{"x":{"datum":264.25},"y":{"datum":127.226},"text":{"field":"t"}}}
]},
{"data":{"name":"timers"},
 "encoding":{"y":{"field":"row","type":"quantitative","scale":{"domain":[-15.503,11.098],"reverse":true,"nice":false,"zero":false},"axis":null}},
 "layer":[
  {"mark":{"type":"point","shape":"M -12.8 -8.2 H 12.8 V 8.2 H -12.8 Z","size":4,"filled":true,"opacity":1,"stroke":"#3a3a3a","strokeWidth":1},
   "encoding":{"x":{"datum":247.5},
    "fill":{"condition":[{"test":"datum.tf==='1D'","value":"#ff00ff"},{"test":"datum.tf==='4H'","value":"#ff8000"},{"test":"datum.tf==='1H'","value":"#80ff50"},{"test":"datum.tf==='30M'","value":"#00c8ff"},{"test":"datum.tf==='15M'","value":"#0a64ff"}],"value":"#0000ff"}}},
  {"mark":{"type":"text","align":"center","baseline":"middle","fontSize":11,"color":"#000000"},
   "encoding":{"x":{"datum":247.5},"text":{"field":"tf"}}},
  {"mark":{"type":"point","shape":"M -34.5 -8.2 H 34.5 V 8.2 H -34.5 Z","size":4,"filled":true,"opacity":1,"stroke":"#3a3a3a","strokeWidth":1},
   "encoding":{"x":{"datum":259.75},
    "fill":{"condition":{"test":"datum.live","value":"#ffffff"},"value":"#aaaaaa"}}},
  {"mark":{"type":"text","align":"center","baseline":"middle","fontSize":17,"color":"#000000"},
   "encoding":{"x":{"datum":259.75},"text":{"field":"left"}}}
 ]}
],
"resolve":{"scale":{"y":"independent"}}
}
